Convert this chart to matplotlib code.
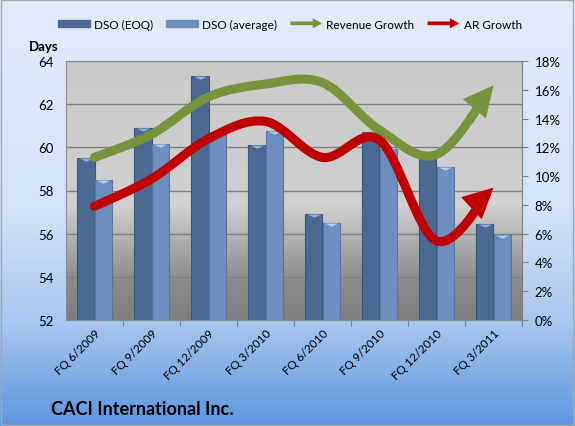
import numpy as np
import matplotlib
matplotlib.use("Agg")
import matplotlib.pyplot as plt
from matplotlib.colors import LinearSegmentedColormap
from matplotlib.patches import FancyArrowPatch, FancyArrow, Patch, Rectangle
from matplotlib.lines import Line2D
from matplotlib.path import Path
from matplotlib.legend_handler import HandlerBase

plt.rcParams["font.family"] = ["Lato", "DejaVu Sans"]

categories = ["FQ 6/2009", "FQ 9/2009", "FQ 12/2009", "FQ 3/2010",
              "FQ 6/2010", "FQ 9/2010", "FQ 12/2010", "FQ 3/2011"]
dso_eoq = [59.5, 60.9, 63.3, 60.1, 56.9, 60.7, 59.8, 56.45]
dso_avg = [58.5, 60.15, 60.65, 60.75, 56.5, 59.9, 59.1, 55.95]
revenue_growth = [11.3, 12.9, 15.5, 16.4, 16.5, 13.2, 11.5, 16.3]
ar_growth = [7.9, 9.8, 12.6, 13.8, 11.3, 12.5, 5.5, 9.2]
days_ticks = [52, 54, 56, 58, 60, 62, 64]
pct_ticks = list(range(0, 19, 2))

c_eoq = "#4a6a94"
c_avg = "#6d8fbf"
c_rev = "#77933c"
c_ar = "#c00000"


def smooth_path(xs, ys):
    # excel-like smoothed line: catmull-rom turned into cubic bezier pieces
    pts = np.column_stack([xs, ys]).astype(float)
    ext = np.vstack([pts[0], pts, pts[-1]])
    verts = [tuple(pts[0])]
    codes = [Path.MOVETO]
    for i in range(len(pts) - 1):
        p0, p1, p2, p3 = ext[i], ext[i + 1], ext[i + 2], ext[i + 3]
        c1 = p1 + (p2 - p0) / 6
        c2 = p2 - (p3 - p1) / 6
        verts += [tuple(c1), tuple(c2), tuple(p2)]
        codes += [Path.CURVE4] * 3
    return Path(verts, codes)


class ArrowHandler(HandlerBase):
    def create_artists(self, legend, orig_handle, xdescent, ydescent,
                       width, height, fontsize, trans):
        arr = FancyArrow(-xdescent, height / 2 - ydescent, width, 0,
                         width=height * 0.55, head_width=height * 1.5,
                         head_length=width * 0.3, length_includes_head=True,
                         color=orig_handle.get_color(), lw=0, transform=trans)
        return [arr]


fig = plt.figure(figsize=(5.75, 4.27), dpi=100)

# figure background gradient
bg = fig.add_axes([0, 0, 1, 1], zorder=-5)
bg_cmap = LinearSegmentedColormap.from_list(
    "bg", [(0, "#5c97df"), (0.25, "#a9c8ee"), (0.5, "#d3e2f7"), (1, "#e2ebf9")])
bg.imshow(np.linspace(0, 1, 256).reshape(-1, 1), cmap=bg_cmap, origin="lower",
          aspect="auto", extent=[0, 1, 0, 1])
bg.add_patch(Rectangle((0.002, 0.002), 0.995, 0.995, fill=False,
                       ec="#a6a6a6", lw=1, transform=bg.transAxes))
bg.axis("off")

ax = fig.add_axes([66 / 575, 106 / 427, 456 / 575, 259 / 427])
ax.patch.set_visible(False)
plot_cmap = LinearSegmentedColormap.from_list(
    "plotbg", [(0, "#7f7f7f"), (0.15, "#8a8a8a"), (0.45, "#d2d2d2"),
               (0.5, "#cfcfcf"), (1, "#cacaca")])
ax.imshow(np.linspace(0, 1, 256).reshape(-1, 1), cmap=plot_cmap, origin="lower",
          aspect="auto", extent=[0, 1, 0, 1], transform=ax.transAxes, zorder=0)

x = np.arange(len(categories))
w = 0.3
ax.bar(x - w / 2, np.array(dso_eoq) - 52, w, bottom=52, color=c_eoq,
       edgecolor="#3b5577", lw=0.8, zorder=2)
ax.bar(x + w / 2, np.array(dso_avg) - 52, w, bottom=52, color=c_avg,
       edgecolor="#58779f", lw=0.8, zorder=2)
cap = Path([(-1, 0), (1, 0), (0, -0.45), (-1, 0)],
           [Path.MOVETO, Path.LINETO, Path.LINETO, Path.CLOSEPOLY])
ax.plot(x - w / 2, dso_eoq, ls="none", marker=cap, ms=10, mfc="#8fb0d8",
        mec="none", zorder=3)
ax.plot(x + w / 2, dso_avg, ls="none", marker=cap, ms=10, mfc="#b5d0ee",
        mec="none", zorder=3)

ax.set_xlim(-0.5, len(categories) - 0.5)
ax.set_ylim(52, 64)
ax.set_yticks(days_ticks)
ax.grid(axis="y", color="#808080", lw=1)
ax.set_axisbelow(True)
ax.tick_params(axis="y", length=0, pad=9, labelsize=9.5)
ax.set_xticks(x + 0.5)
ax.set_xticks(x, minor=True)
ax.set_xticklabels([])
ax.set_xticklabels(categories, minor=True, rotation=45, ha="right",
                   rotation_mode="anchor", fontsize=8.5)
ax.tick_params(axis="x", which="major", length=4, color="#808080")
ax.tick_params(axis="x", which="minor", length=0, pad=5)
for s in ["top", "left", "bottom"]:
    ax.spines[s].set_color("#8c8c8c")
ax.spines["right"].set_visible(False)

ax2 = ax.twinx()
ax2.set_ylim(0, 18)
ax2.set_yticks(pct_ticks)
ax2.set_yticklabels([f"{v}%" for v in pct_ticks])
ax2.tick_params(axis="y", length=4, pad=5, labelsize=9.5, color="#808080")
ax2.spines["right"].set_color("#808080")
for s in ["top", "left", "bottom"]:
    ax2.spines[s].set_visible(False)

for vals, col in [(revenue_growth, c_rev), (ar_growth, c_ar)]:
    arr = FancyArrowPatch(path=smooth_path(x, vals),
                          arrowstyle="-|>,head_length=0.8,head_width=0.4",
                          mutation_scale=14, lw=6.5, color=col,
                          capstyle="round", joinstyle="miter", zorder=5)
    ax2.add_patch(arr)

fig.text(29 / 575, 1 - 47 / 427, "Days", fontsize=9.5, fontweight="bold",
         va="center")
fig.text(51 / 575, 1 - 410 / 427, "CACI International Inc.", fontsize=13,
         fontweight="bold", va="center")

handles = [Patch(color=c_eoq), Patch(color=c_avg),
           Line2D([], [], color=c_rev), Line2D([], [], color=c_ar)]
labels = ["DSO (EOQ)", "DSO (average)", "Revenue Growth", "AR Growth"]
fig.legend(handles, labels, loc="center", bbox_to_anchor=(290 / 575, 1 - 25 / 427),
           ncol=4, frameon=False, fontsize=8.5, handlelength=2.7,
           handleheight=0.5, handletextpad=0.35, columnspacing=1.1,
           handler_map={Line2D: ArrowHandler()})

fig.savefig("out.png", dpi=100)
